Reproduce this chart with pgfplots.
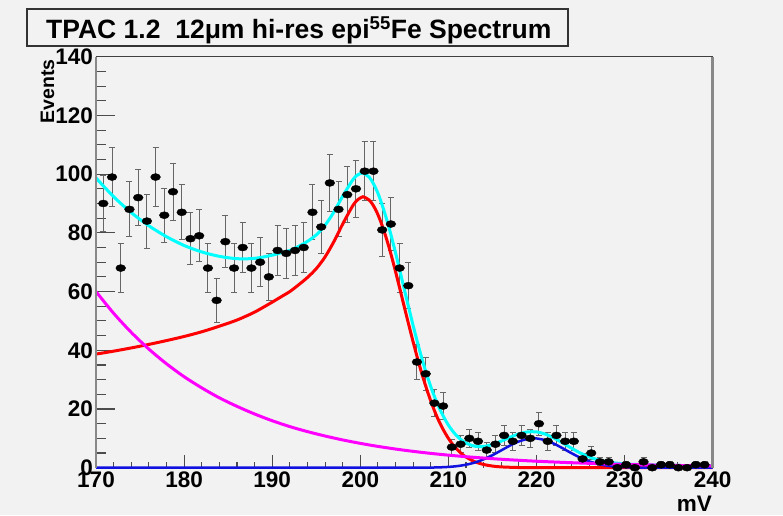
\documentclass[border=0pt]{standalone}
\usepackage{fontspec}
\setmainfont{Liberation Sans}
\usepackage{pgfplots}
\usepackage{pgfplotstable}
\pgfplotsset{compat=1.18}
\definecolor{RootBg}{HTML}{F2F2F2}
\definecolor{RootCyan}{HTML}{00FFFF}
\definecolor{RootRed}{HTML}{FF0000}
\definecolor{RootMag}{HTML}{FF00FF}
\definecolor{RootBlue}{HTML}{1010E0}
\definecolor{FrameGray}{HTML}{888888}

% 55Fe spectrum: bin centre (mV), events, sqrt(N)
\pgfplotstableread{
x y e
170.83 90 9.49
171.82 99 9.95
172.81 68 8.25
173.80 88 9.38
174.79 92 9.59
175.78 84 9.17
176.76 99 9.95
177.75 86 9.27
178.74 94 9.70
179.73 87 9.33
180.72 78 8.83
181.71 79 8.89
182.70 68 8.25
183.69 57 7.55
184.68 77 8.77
185.67 68 8.25
186.65 75 8.66
187.64 68 8.25
188.63 70 8.37
189.62 65 8.06
190.61 74 8.60
191.60 73 8.54
192.59 74 8.60
193.58 75 8.66
194.57 87 9.33
195.56 82 9.06
196.54 97 9.85
197.53 88 9.38
198.52 93 9.64
199.51 95 9.75
200.50 101 10.05
201.49 101 10.05
202.48 81 9.00
203.47 83 9.11
204.46 68 8.25
205.45 62 7.87
206.43 36 6.00
207.42 32 5.66
208.41 22 4.69
209.40 21 4.58
210.39 7 2.65
211.38 8 2.83
212.37 10 3.16
213.36 9 3.00
214.35 6 2.45
215.34 8 2.83
216.32 11 3.32
217.31 9 3.00
218.30 11 3.32
219.29 10 3.16
220.28 15 3.87
221.27 9 3.00
222.26 11 3.32
223.25 9 3.00
224.24 9 3.00
225.23 3 1.73
226.21 5 2.24
227.20 2 1.41
228.19 2 1.41
229.18 0 0
230.17 1 1
231.16 0 0
232.15 2 1.41
233.14 0 0
234.13 1 1
235.12 1 1
236.10 0 0
237.09 0 0
238.08 1 1
239.07 1 1
}\spectrum

\begin{document}
\begin{tikzpicture}
\fill[RootBg] (0pt,0pt) rectangle (783pt,515pt);
\begin{axis}[
  at={(96pt,47.3pt)}, anchor=south west,
  scale only axis, width=616.7pt, height=411pt,
  xmin=170, xmax=240, ymin=0, ymax=140,
  xtick={170,180,...,240}, ytick={0,20,...,140},
  minor x tick num=4, minor y tick num=3,
  tick align=inside, xtick pos=left, ytick pos=left,
  major tick length=18.5pt, minor tick length=9.5pt,
  major x tick style={/pgfplots/major tick length=12.3pt},
  minor x tick style={/pgfplots/minor tick length=6pt},
  tick style={color=black!70, line width=1.1pt},
  axis line style={draw=none},
  axis background/.style={fill=RootBg},
  /pgf/number format/assume math mode=true,
  tick label style={font=\fontsize{22.5}{22.5}\selectfont\bfseries},
  xticklabel style={inner sep=2pt, yshift=-2pt},
  yticklabel style={inner sep=2pt, xshift=-1pt},
  clip=false,
]
\addplot[only marks, mark=*, mark size=3.5pt, mark options={xscale=1.4, fill=black, draw=black},
  error bars/.cd, y dir=both, y explicit, error mark=|,
  error bar style={line width=1pt, color=black!60},
  error mark options={line width=1pt, color=black!60, mark size=3pt}]
  table[x=x, y=y, y error=e] {\spectrum};

% total fit
\addplot[RootCyan, line width=3pt, smooth] coordinates {
(170,98.7)(172,92.3)(174,86.9)(176,82.4)(178,78.7)(180,75.7)(182,73.5)(184,72.0)
(186,71.2)(188,71.3)(190,72.4)(191,73.2)(192,74.0)(193,75.4)(194,77.1)(195,79.3)
(196,82.6)(197,87.1)(198,92.5)(199,97.4)(199.5,99.3)(200,100.2)(200.3,100.4)
(201,99.0)(201.5,96.7)(202,93.5)(202.5,89.3)(203,84.5)(203.5,79.1)(204,73.2)
(204.5,67.0)(205,60.7)(205.5,54.5)(206,48.4)(206.5,42.6)(207,37.1)(207.5,32.1)
(208,27.6)(208.5,23.6)(209,20.1)(209.5,17.1)(210,14.5)(210.5,12.4)(211,10.7)
(211.5,9.39)(212,8.40)(213,7.32)(214,7.24)(215,7.91)(216,9.05)(217,10.37)
(218,11.52)(219,12.19)(220,12.19)(221,11.44)(222,10.09)(223,8.39)(224,6.60)
(225,4.97)(226,3.65)(227,2.68)(228,2.01)(229,1.58)(230,1.31)(231,1.14)(232,1.03)
(234,0.88)(236,0.77)(238,0.68)(240,0.59)};

% main peak
\addplot[RootRed, line width=3pt, smooth] coordinates {
(170,38.7)(172,39.7)(174,40.8)(176,42.0)(178,43.3)(180,44.7)(182,46.3)(184,48.2)
(186,50.3)(188,53.0)(190,56.4)(191,58.2)(192,60.0)(193,62.3)(194,64.8)(195,67.8)
(196,71.8)(197,77.0)(198,83.0)(199,88.5)(199.5,90.7)(200,91.9)(200.3,92.3)
(201,91.2)(201.5,89.2)(202,86.2)(202.5,82.3)(203,77.7)(203.5,72.5)(204,66.8)
(204.5,60.8)(205,54.7)(205.5,48.7)(206,42.8)(206.5,37.2)(207,31.9)(207.5,27.1)
(208,22.7)(208.5,18.8)(209,15.4)(209.5,12.5)(210,9.98)(210.5,7.89)(211,6.17)
(211.5,4.76)(212,3.63)(213,2.04)(214,1.09)(215,0.56)(216,0.27)(218,0.06)
(220,0.01)(225,0)(230,0)(240,0)};

% second peak
\addplot[RootBlue, line width=2.5pt, smooth] coordinates {
(170,0)(190,0)(200,0)(206,0)(208,0.05)(209,0.12)(210,0.27)(211,0.54)(212,1.02)
(213,1.77)(214,2.86)(215,4.27)(216,5.90)(217,7.55)(218,8.94)(219,9.81)(219.7,10)
(220,9.97)(221,9.37)(222,8.15)(223,6.57)(224,4.90)(225,3.38)(226,2.16)(227,1.28)
(228,0.70)(229,0.36)(230,0.17)(231,0.07)(232,0.03)(234,0)(240,0)};

% background
\addplot[RootMag, line width=3pt, smooth] coordinates {
(170,60.0)(172,52.6)(174,46.1)(176,40.4)(178,35.4)(180,31.0)(182,27.2)(184,23.8)
(186,20.9)(188,18.3)(190,16.0)(192,14.0)(194,12.3)(196,10.8)(198,9.46)(200,8.29)
(202,7.26)(204,6.36)(206,5.57)(208,4.88)(210,4.28)(212,3.75)(214,3.29)(216,2.88)
(218,2.52)(220,2.21)(222,1.94)(224,1.70)(226,1.49)(228,1.31)(230,1.14)(232,1.00)
(234,0.88)(236,0.77)(238,0.68)(240,0.59)};

% frame
\draw[black!75, line width=1.5pt] (rel axis cs:0,1) -- (rel axis cs:1,1);
\draw[FrameGray, line width=2pt] (rel axis cs:0,0) -- (rel axis cs:0,1);
\draw[FrameGray, line width=3pt] (rel axis cs:1,0) -- (rel axis cs:1,1);
\end{axis}

\node[rotate=90, anchor=base east, inner sep=0pt,
  font=\fontsize{19.5}{19.5}\selectfont\bfseries] at (54pt,456pt) {Events};
\node[anchor=base east, inner sep=0pt,
  font=\fontsize{22.5}{22.5}\selectfont\bfseries] at (712pt,4pt) {mV};

\draw[black!80, line width=1.2pt, fill=RootBg] (27pt,469pt) rectangle (568pt,506pt);
\node[anchor=base west, inner sep=0pt,
  font=\fontsize{26.5}{26.5}\selectfont\bfseries] at (46pt,476.5pt)
  {TPAC 1.2\ \ 12μm hi-res epi\textsuperscript{55}Fe Spectrum};
\end{tikzpicture}
\end{document}
